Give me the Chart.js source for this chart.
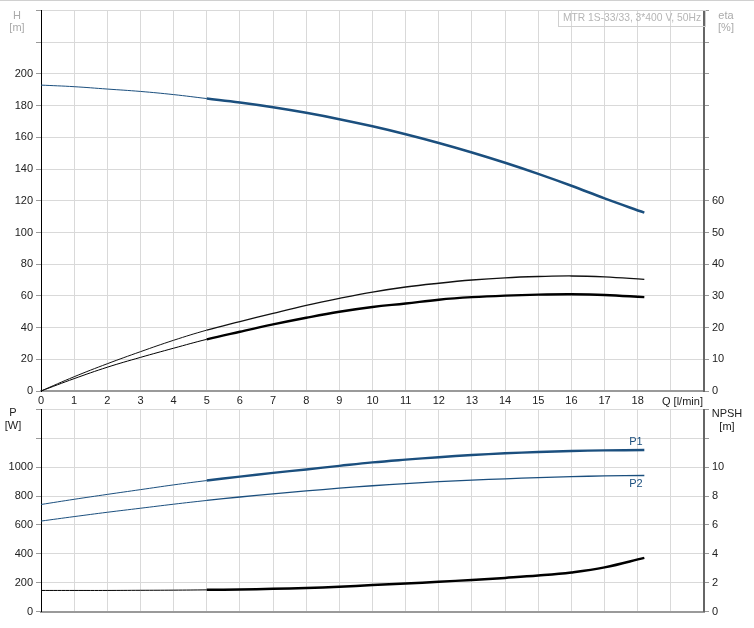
<!DOCTYPE html>
<html>
<head>
<meta charset="utf-8">
<script src="https://cdn.jsdelivr.net/npm/chart.js@4"></script>
<style>
  body { margin: 0; background: #fff; }
  #wrap { position: relative; width: 754px; height: 628px; overflow: hidden; border-top: 1px solid #d0d0d0; box-sizing: border-box; }
  canvas { position: absolute; left: 0; }
</style>
</head>
<body>
<div id="wrap">
  <canvas id="top" width="754" height="407" style="top:0"></canvas>
  <canvas id="bot" width="754" height="228" style="top:399px"></canvas>
</div>
<script>
// flow rate Q [l/min]
const flow = [0, 1, 2, 3, 4, 5, 6, 7, 8, 9, 10, 11, 12, 13, 14, 15, 16, 17, 18.2];
// head H [m]
const head = [193, 192, 190.5, 189, 187, 184.5, 182, 179, 175.5, 171.5, 167, 162, 156.5, 150.5, 144, 137, 129.5, 121.5, 112.5];
// efficiency eta [%]
const etaPump = [0, 4.5, 8.6, 12.4, 16, 19.2, 21.9, 24.5, 27, 29.2, 31.2, 32.8, 34, 35, 35.7, 36.1, 36.3, 36, 35.2];
const etaTotal = [0, 3.9, 7.5, 10.6, 13.5, 16.3, 18.7, 21, 23.1, 25, 26.5, 27.6, 28.8, 29.6, 30.1, 30.4, 30.5, 30.3, 29.6];
// power [W]
const p1 = [742, 778, 812, 845, 878, 908, 935, 961, 985, 1010, 1034, 1053, 1070, 1085, 1097, 1106, 1113, 1117, 1120];
const p2 = [627, 658, 688, 716, 744, 770, 794, 816, 836, 855, 872, 887, 900, 911, 920, 928, 935, 940, 943];
// NPSH [m]
const npsh = [1.46, 1.46, 1.46, 1.47, 1.48, 1.5, 1.53, 1.57, 1.63, 1.72, 1.83, 1.94, 2.06, 2.19, 2.33, 2.49, 2.71, 3.06, 3.72];

const blue = '#1b4f7e';
const font = { family: "'Liberation Sans', Arial, sans-serif", size: 11 };
Chart.defaults.font = font;
Chart.defaults.color = '#222';

const pts = ys => flow.map((q, i) => ({ x: q, y: ys[i] }));
const thick = w => ({ borderWidth: c => c.p0.parsed.x >= 5 ? w : 1 });
const line = (ys, color, axis, w) => ({
  data: pts(ys), borderColor: color, yAxisID: axis, pointRadius: 0,
  tension: 0.4, borderWidth: 1, segment: thick(w), fill: false
});

function xScale(showLabels, h) {
  return {
    type: 'linear', min: 0, max: 20,
    ticks: { stepSize: 1, display: showLabels, padding: 3, maxRotation: 0,
      callback: v => v <= 18 ? v : '' },
    grid: { color: '#d9d9d9', drawTicks: false },
    border: { color: '#9a9a9a', width: 2 },
    afterFit: s => { s.height = h; }
  };
}
function yScale(pos, max, step, lastLabel) {
  return {
    type: 'linear', position: pos, min: 0, max: max,
    ticks: { stepSize: step, padding: 3, callback: v => v <= lastLabel ? v : '' },
    grid: { color: '#d9d9d9', tickColor: '#999', tickLength: 5, drawOnChartArea: pos === 'left' },
    border: { color: pos === 'left' ? '#000' : '#666', width: pos === 'left' ? 1 : 2 },
    afterFit: s => { s.width = pos === 'left' ? 41 : 50; }
  };
}

const texts = {
  id: 'texts',
  afterDraw(chart, args, opts) {
    const ctx = chart.ctx;
    ctx.save();
    opts.items.forEach(t => {
      ctx.font = (t.size || 11) + "px 'Liberation Sans', Arial, sans-serif";
      ctx.fillStyle = t.color || '#222';
      ctx.textAlign = t.align || 'center';
      ctx.textBaseline = 'middle';
      ctx.fillText(t.text, t.x, t.y);
    });
    if (opts.box) {
      ctx.strokeStyle = '#d0d0d0';
      ctx.lineWidth = 1;
      ctx.strokeRect(opts.box[0] + 0.5, opts.box[1] + 0.5, opts.box[2], opts.box[3]);
    }
    ctx.restore();
  }
};

new Chart(document.getElementById('top'), {
  type: 'line',
  data: { datasets: [
    line(head, blue, 'y', 2.5),
    line(etaPump, '#111', 'y2', 1.4),
    line(etaTotal, '#000', 'y2', 2.4)
  ] },
  options: {
    responsive: false, animation: false, events: [],
    layout: { padding: { top: 9, left: 0, right: 0, bottom: 0 } },
    plugins: { legend: { display: false }, tooltip: { enabled: false },
      texts: {
        box: [558, 9, 147, 16],
        items: [
          { text: 'H', x: 17, y: 15, color: '#aaa' },
          { text: '[m]', x: 17, y: 27, color: '#aaa' },
          { text: 'eta', x: 726, y: 15, color: '#aaa' },
          { text: '[%]', x: 726, y: 27, color: '#aaa' },
          { text: 'MTR 1S-33/33, 3*400 V, 50Hz', x: 632, y: 17, color: '#b5b5b5', size: 10.3 },
          { text: 'Q [l/min]', x: 662, y: 401, align: 'left' }
        ]
      }
    },
    scales: {
      x: xScale(true, 17),
      y: yScale('left', 240, 20, 200),
      y2: yScale('right', 120, 10, 60)
    }
  },
  plugins: [texts]
});

new Chart(document.getElementById('bot'), {
  type: 'line',
  data: { datasets: [
    line(p1, blue, 'p', 2.4),
    line(p2, blue, 'p', 1.3),
    line(npsh, '#000', 'n', 2.5)
  ] },
  options: {
    responsive: false, animation: false, events: [],
    layout: { padding: { top: 9, left: 0, right: 0, bottom: 0 } },
    plugins: { legend: { display: false }, tooltip: { enabled: false },
      texts: {
        items: [
          { text: 'P', x: 13, y: 13 },
          { text: '[W]', x: 13, y: 26 },
          { text: 'NPSH', x: 727, y: 14 },
          { text: '[m]', x: 727, y: 27 },
          { text: 'P1', x: 636, y: 42, color: blue },
          { text: 'P2', x: 636, y: 84, color: blue }
        ]
      }
    },
    scales: {
      x: xScale(false, 16.5),
      p: yScale('left', 1400, 200, 1000),
      n: yScale('right', 14, 2, 10)
    }
  },
  plugins: [texts]
});
</script>
</body>
</html>
